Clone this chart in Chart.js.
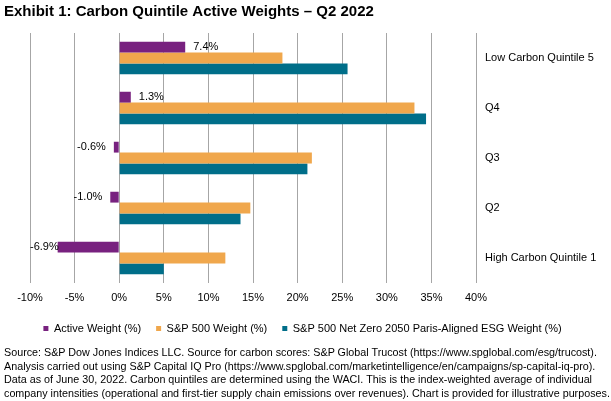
<!DOCTYPE html>
<html>
<head>
<meta charset="utf-8">
<script src="https://cdn.jsdelivr.net/npm/chart.js@4/dist/chart.umd.min.js"></script>
<style>
  body { margin: 0; background: #fff; }
  #wrap { position: relative; width: 611px; height: 401px; overflow: hidden; }
  #fuente {
    position: absolute; left: 4px; top: 346px; margin: 0;
    font-family: 'Liberation Sans', Arial, sans-serif; font-size: 10.75px; line-height: 13.5px;
    color: #000; white-space: nowrap;
  }
</style>
</head>
<body>
<div id="wrap">
  <canvas id="grafica" width="611" height="401"></canvas>
  <p id="fuente"></p>
</div>
<script>
// datos
const quintiles = ["Low Carbon Quintile 5", "Q4", "Q3", "Q2", "High Carbon Quintile 1"];
const activeWeight = [7.4, 1.3, -0.6, -1.0, -6.9];
const sp500Weight = [18.3, 33.1, 21.6, 14.7, 11.9];
const netZeroWeight = [25.6, 34.4, 21.1, 13.6, 5.0];
const seriesNames = ["Active Weight (%)", "S&P 500 Weight (%)", "S&P 500 Net Zero 2050 Paris-Aligned ESG Weight (%)"];
const xTicks = [-10, -5, 0, 5, 10, 15, 20, 25, 30, 35, 40];
const sourceLines = [
  "Source: S&P Dow Jones Indices LLC. Source for carbon scores: S&P Global Trucost (https://www.spglobal.com/esg/trucost).",
  "Analysis carried out using S&P Capital IQ Pro (https://www.spglobal.com/marketintelligence/en/campaigns/sp-capital-iq-pro).",
  "Data as of June 30, 2022. Carbon quintiles are determined using the WACI. This is the index-weighted average of individual",
  "company intensities (operational and first-tier supply chain emissions over revenues). Chart is provided for illustrative purposes."
];

const fuente = "'Liberation Sans', Arial, sans-serif";

// nota de fuente debajo del grafico
const nota = document.getElementById("fuente");
sourceLines.forEach((linea, i) => {
  if (i > 0) nota.appendChild(document.createElement("br"));
  nota.appendChild(document.createTextNode(linea));
});

// etiquetas de la serie Active Weight
const etiquetasActivas = {
  id: 'etiquetasActivas',
  afterDatasetsDraw(chart) {
    const ctx = chart.ctx;
    const meta = chart.getDatasetMeta(0);
    ctx.save();
    ctx.font = "11px " + fuente;
    ctx.fillStyle = "#000";
    ctx.textBaseline = "middle";
    ctx.textAlign = "left";
    meta.data.forEach((bar, i) => {
      const v = activeWeight[i];
      const txt = v.toFixed(1) + "%";
      const w = ctx.measureText(txt).width;
      if (v >= 0) {
        ctx.fillText(txt, bar.x + 8, bar.y);
      } else {
        let x = bar.x - 8 - w;
        if (x < chart.chartArea.left) x = chart.chartArea.left;
        ctx.fillText(txt, x, bar.y);
      }
    });
    ctx.restore();
  }
};

const ctx = document.getElementById("grafica").getContext("2d");

new Chart(ctx, {
  type: 'bar',
  data: {
    labels: quintiles,
    datasets: [
      { label: seriesNames[0], data: activeWeight, backgroundColor: '#78217F' },
      { label: seriesNames[1], data: sp500Weight, backgroundColor: '#F0A74C' },
      { label: seriesNames[2], data: netZeroWeight, backgroundColor: '#006E89' }
    ]
  },
  options: {
    indexAxis: 'y',
    responsive: false,
    animation: false,
    devicePixelRatio: 1,
    layout: { padding: { left: 4, right: 10, top: 0, bottom: 57 } },
    datasets: { bar: { barPercentage: 1, categoryPercentage: 0.65 } },
    scales: {
      x: {
        min: -10,
        max: 40,
        afterBuildTicks: (scale) => { scale.ticks = xTicks.map(v => ({ value: v })); },
        ticks: {
          callback: (v) => v + '%',
          color: '#000',
          font: { family: fuente, size: 11 },
          padding: 8,
          maxRotation: 0
        },
        grid: { color: '#A6A6A6', lineWidth: 1, drawTicks: false },
        border: { display: false },
        afterFit: (scale) => { scale.height = 25; }
      },
      y: {
        position: 'right',
        ticks: {
          color: '#000',
          font: { family: fuente, size: 11 },
          padding: 9
        },
        grid: { display: false, drawTicks: false },
        border: { display: false },
        afterFit: (scale) => { scale.width = 125; }
      },
      // eje vacio a la izquierda, solo para dejar margen
      yIzq: {
        type: 'category',
        position: 'left',
        ticks: { display: false },
        grid: { display: false, drawTicks: false },
        border: { display: false },
        afterFit: (scale) => { scale.width = 26; }
      }
    },
    plugins: {
      title: {
        display: true,
        text: 'Exhibit 1: Carbon Quintile Active Weights \u2013 Q2 2022',
        align: 'start',
        color: '#000',
        font: { family: fuente, size: 15, weight: 'bold', lineHeight: 1.2 },
        padding: { top: 3, bottom: 12 }
      },
      legend: {
        position: 'bottom',
        labels: {
          boxWidth: 5,
          boxHeight: 5,
          color: '#000',
          font: { family: fuente, size: 11 },
          padding: 15
        }
      },
      tooltip: { enabled: false }
    }
  },
  plugins: [etiquetasActivas]
});
</script>
</body>
</html>
